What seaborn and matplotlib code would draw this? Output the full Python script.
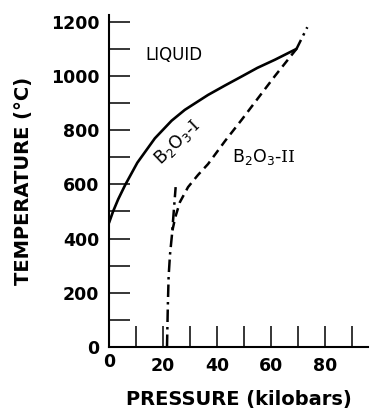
import matplotlib
matplotlib.use("Agg")
import matplotlib.pyplot as plt
import seaborn as sns

sns.set_style("ticks")
plt.rcParams['font.family'] = ['DejaVu Sans', 'Noto Sans']
plt.rcParams['text.color'] = 'black'
plt.rcParams['axes.labelcolor'] = 'black'
plt.rcParams['xtick.color'] = 'black'
plt.rcParams['ytick.color'] = 'black'
plt.rcParams['mathtext.fontset'] = 'custom'
plt.rcParams['mathtext.rm'] = 'DejaVu Serif'
plt.rcParams['mathtext.sf'] = 'DejaVu Sans'

# melting curve B2O3-I / liquid
melt_p = [0, 1.5, 3.4, 6.0, 10.5, 17, 23.2, 28.1, 32, 36.7, 43, 49.5, 55, 61.5, 69.5]
melt_t = [458, 500, 545, 598, 680, 770, 835, 875, 900, 930, 965, 1000, 1030, 1060, 1100]

# I / II boundary (dashed part)
trans_p = [23.5, 24.6, 26.3, 29.3, 33, 36.7, 43, 49.3, 55, 61.5, 69.5]
trans_t = [430, 480, 535, 590, 635, 675, 760, 840, 915, 1000, 1100]

# low temperature dash-dot part, incl. metastable extension
low_p = [21.5, 21.8, 22.1, 22.6, 23.3, 24.0, 24.7]
low_t = [0, 150, 260, 340, 410, 500, 590]

# melting curve of B2O3-II beyond triple point
ext_p = [69.5, 73.5]
ext_t = [1100, 1180]

fig = plt.figure(figsize=(3.7, 4.09), dpi=100)
ax = fig.add_axes([0.2946, 0.1516, 0.70, 0.8117])

sns.lineplot(x=melt_p, y=melt_t, sort=False, color='black', lw=1.9, ax=ax)
sns.lineplot(x=trans_p, y=trans_t, sort=False, color='black', lw=1.8,
             ax=ax, linestyle=(0, (3.5, 2.2)))
sns.lineplot(x=low_p, y=low_t, sort=False, color='black', lw=1.8,
             ax=ax, linestyle=(0, (5, 2, 1, 2)))
sns.lineplot(x=ext_p, y=ext_t, sort=False, color='black', lw=1.8,
             ax=ax, linestyle=(0, (4, 2, 1, 2)))

ax.set_xlim(0, 96)
ax.set_ylim(0, 1225)
ax.set_xticks(range(10, 100, 10))
ax.set_xticklabels([str(v) if v % 20 == 0 else '' for v in range(10, 100, 10)])
ax.set_yticks(range(0, 1300, 100))
ax.set_yticklabels([str(v) if v % 200 == 0 else '' for v in range(0, 1300, 100)])
ax.tick_params(direction='in', length=15, width=1.1, labelsize=12.5, pad=7)
for lab in ax.get_xticklabels() + ax.get_yticklabels():
    lab.set_fontweight('bold')
ax.text(0, -22, '0', ha='center', va='top', fontsize=12.5, fontweight='bold')

sns.despine(ax=ax)
for s in ['left', 'bottom']:
    ax.spines[s].set_linewidth(1.5)
    ax.spines[s].set_color('black')

ax.set_xlabel('PRESSURE (kilobars)', fontsize=14, fontweight='bold', labelpad=11)
ax.set_ylabel('TEMPERATURE (°C)', fontsize=14, fontweight='bold', labelpad=13)

ax.text(13.3, 1078, 'LIQUID', fontsize=12, va='center', ha='left')
ax.text(25.5, 755, r'B$_\mathsf{2}$O$_\mathsf{3}$-$\mathrm{I}$', fontsize=12.5,
        rotation=44, ha='center', va='center')
ax.text(57.4, 700, r'B$_\mathsf{2}$O$_\mathsf{3}$-$\mathrm{II}$', fontsize=12.5,
        ha='center', va='center')

fig.savefig('out.png', dpi=100)
